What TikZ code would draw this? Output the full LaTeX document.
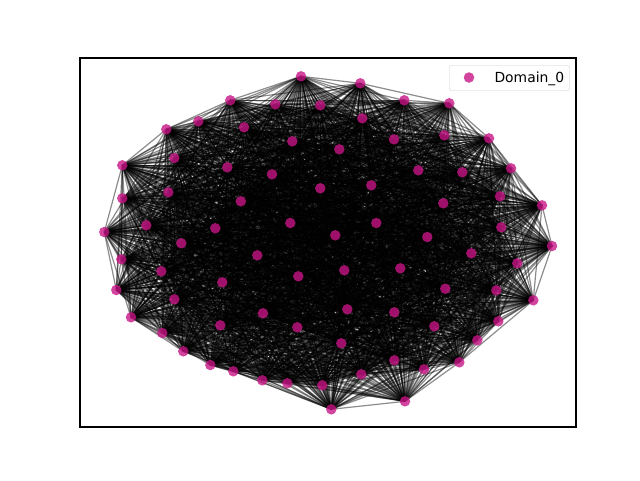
\documentclass[tikz,border=0pt]{standalone}
\usepackage{fontspec}
\setmainfont{DejaVu Sans}
\definecolor{domcol}{RGB}{199,21,133}

\begin{document}
\begin{tikzpicture}[x=1pt,y=-1pt,
    dom/.style={circle,fill=domcol,fill opacity=0.8,inner sep=0pt,minimum size=10.5pt},
    edge/.style={black,opacity=0.45,line width=1.2pt}]
  \useasboundingbox (0,0) rectangle (640,480);
  % positions of the nodes
  \foreach \x/\y [count=\n] in {
      301/76.3, 360.3/83.3, 404.3/100.3, 449.3/103.3, 230.3/100.3, 275.3/104.3,
      320.3/105.3, 362.3/118.3, 198.3/121.3, 244/127.3, 166.3/129.3, 444.3/135.3,
      489/138.3, 292.3/141.3, 394/139.3, 339.3/149.3, 174.3/158, 122.3/165.3,
      227.3/167.3, 418.3/170.3, 462.3/172.3, 511/168.3, 272/174.3, 320.3/188.3,
      371.3/185.3, 168.3/192.3, 122.3/198.3, 500/196.3, 240.8/201.3, 443.3/203.3,
      542/205.3, 146.3/225.3, 215.3/228.3, 290.3/223, 376.3/223, 501.3/227.3,
      104.3/232, 335.3/235.3, 427.3/237, 181.3/243.2, 552/246, 257.3/255.3,
      471.3/253.3, 121.3/259.3, 161.3/271.3, 344.3/270.3, 400.3/268.3, 298.3/276.3,
      517.3/263.3, 222.3/282.3, 445.3/288.7, 116.3/290, 496.3/290.3, 533.3/300.3,
      174.3/299.3, 347.3/309.3, 263/313.3, 394.3/312.3, 131/317.3, 220.3/325.3,
      297.3/327.3, 434.3/326.3, 498.3/321.3, 162.3/333, 341.3/343.3, 477.3/340.3,
      183.3/351.3, 394.3/360.3, 459.3/362.3, 210.3/365, 233.3/371.3, 361.3/374.3,
      424/369.3, 262.3/380.3, 287.3/383.3, 322.3/385.3, 331.3/409.3, 405/401.3}
    \coordinate (p\n) at (\x,\y);
  % edges
  \foreach \i in {1,...,77}{
    \pgfmathtruncatemacro\k{\i+1}
    \foreach \j in {\k,...,78}{
      \edef\h{\the\numexpr \i*\i*31+\j*\j*17+\i*\j*13+\i*7+\j*3\relax}
      \edef\h{\the\numexpr \h-97*((\h-48)/97)\relax}
      \ifnum\h<82 \draw[edge] (p\i) -- (p\j); \fi
    }
  }
  % nodes
  \foreach \n in {1,...,78}
    \node[dom] (v\n) at (p\n) {};
  % axes frame
  \draw[line width=1.1pt] (80,58) rectangle (576,427);
  % legend
  \node[draw=black!20,fill=white,fill opacity=0.8,rounded corners=2pt,
        minimum width=120pt,minimum height=25pt,inner sep=0pt,anchor=north west]
        (legend) at (449.3,65.3) {};
  \node[dom] (mark) at (469,77.5) {};
  \node[anchor=base west,inner sep=0pt,font=\fontsize{13.9}{16}\selectfont]
        (label) at (494.3,82) {Domain\_0};
\end{tikzpicture}
\end{document}
